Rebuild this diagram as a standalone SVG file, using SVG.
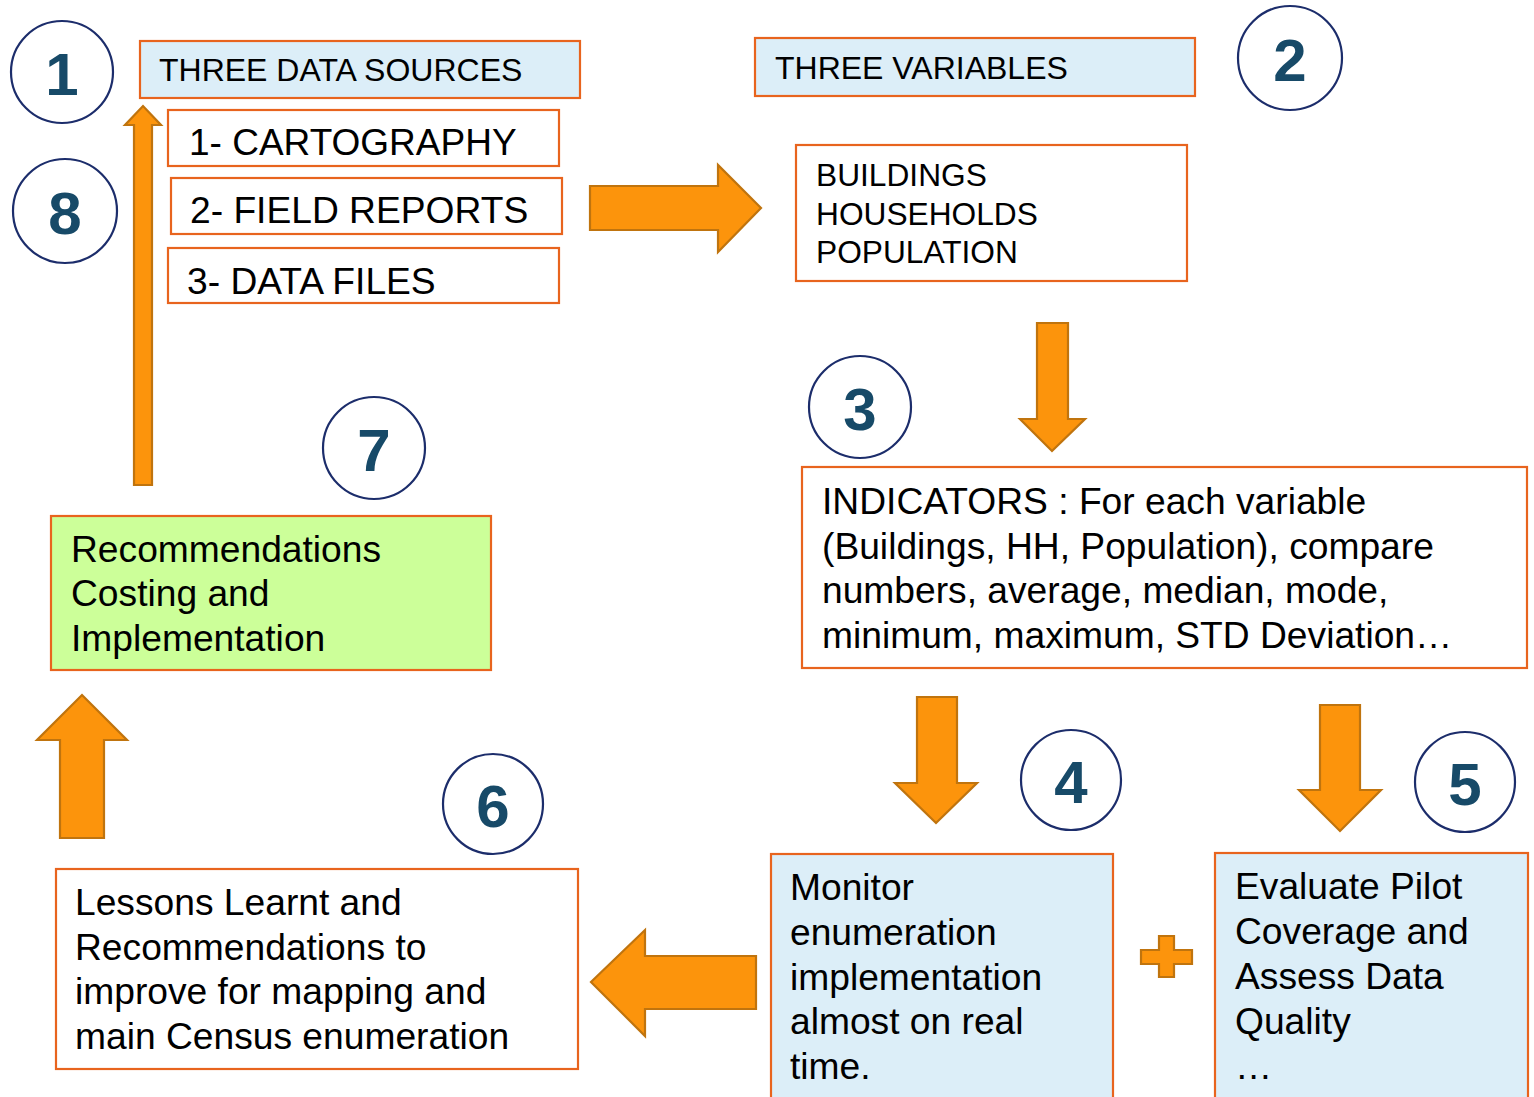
<svg xmlns="http://www.w3.org/2000/svg" width="1534" height="1097" viewBox="0 0 1534 1097">
  <style>
    .box { stroke: #E8641E; stroke-width: 2.2; }
    .blue { fill: #DCEEF8; }
    .white { fill: #FFFFFF; }
    .green { fill: #CCFF99; }
    .badge { fill: #FFFFFF; stroke: #1C2D6B; stroke-width: 2.2; }
    .num { font-family: "Liberation Sans", Arial, sans-serif; font-weight: bold; font-size: 60px; fill: #174A68; text-anchor: middle; }
    .t { font-family: "Liberation Sans", Arial, sans-serif; fill: #000000; }
    .arrow { fill: #FC940C; stroke: #C0740E; stroke-width: 2.2; stroke-linejoin: miter; }
  </style>
  <rect width="1534" height="1097" fill="#FFFFFF"/>

  <!-- flow arrows -->
  <g id="connectors">
    <path class="arrow" d="M134,485 L134,125 L125,125 L143,106 L161,125 L152,125 L152,485 Z"/>
    <path class="arrow" d="M590,186 L718,186 L718,165 L761,208 L718,252 L718,230 L590,230 Z"/>
    <path class="arrow" d="M1037,323 L1068,323 L1068,419 L1085,419 L1052,451 L1020,419 L1037,419 Z"/>
    <path class="arrow" d="M917,697 L957,697 L957,783 L977,783 L936,823 L895,783 L917,783 Z"/>
    <path class="arrow" d="M1320,705 L1360,705 L1360,790 L1381,790 L1340,831 L1299,790 L1320,790 Z"/>
    <path class="arrow" d="M756,956 L645,956 L645,930 L591,982 L645,1036 L645,1009 L756,1009 Z"/>
    <path class="arrow" d="M60,838 L60,740 L37,740 L82,695 L127,740 L104,740 L104,838 Z"/>
    <path class="arrow" d="M1159,936 L1174,936 L1174,950 L1192,950 L1192,964 L1174,964 L1174,977 L1159,977 L1159,964 L1141,964 L1141,950 L1159,950 Z"/>
  </g>

  <g id="step1">
    <circle class="badge" cx="62" cy="72" r="51"/>
    <text class="num" x="62" y="95">1</text>
  </g>

  <g id="data-sources">
    <rect class="box blue" x="140" y="41" width="440" height="57"/>
    <text class="t" x="159" y="81" font-size="32">THREE DATA SOURCES</text>
  </g>

  <g id="cartography">
    <rect class="box white" x="168" y="110" width="391" height="56"/>
    <text class="t" x="189" y="155" font-size="37">1- CARTOGRAPHY</text>
  </g>

  <g id="field-reports">
    <rect class="box white" x="171" y="178" width="391" height="56"/>
    <text class="t" x="190" y="223" font-size="37.2">2- FIELD REPORTS</text>
  </g>

  <g id="data-files">
    <rect class="box white" x="168" y="248" width="391" height="55"/>
    <text class="t" x="187" y="294" font-size="37.2">3- DATA FILES</text>
  </g>

  <g id="step8">
    <circle class="badge" cx="65" cy="211" r="52"/>
    <text class="num" x="65" y="234">8</text>
  </g>

  <g id="variables">
    <rect class="box blue" x="755" y="38" width="440" height="58"/>
    <text class="t" x="775" y="79" font-size="32">THREE VARIABLES</text>
  </g>

  <g id="step2">
    <circle class="badge" cx="1290" cy="58" r="52"/>
    <text class="num" x="1290" y="81">2</text>
  </g>

  <g id="variable-list">
    <rect class="box white" x="796" y="145" width="391" height="136"/>
    <text class="t" font-size="31.7">
      <tspan x="816" y="186">BUILDINGS</tspan>
      <tspan x="816" y="224.5">HOUSEHOLDS</tspan>
      <tspan x="816" y="263">POPULATION</tspan>
    </text>
  </g>

  <g id="step3">
    <circle class="badge" cx="860" cy="407" r="51"/>
    <text class="num" x="860" y="430">3</text>
  </g>

  <g id="indicators">
    <rect class="box white" x="802" y="467" width="725" height="201"/>
    <text class="t" font-size="37.2">
      <tspan x="822" y="514">INDICATORS : For each variable</tspan>
      <tspan x="822" y="559">(Buildings, HH, Population), compare</tspan>
      <tspan x="822" y="603">numbers, average, median, mode,</tspan>
      <tspan x="822" y="648">minimum, maximum, STD Deviation…</tspan>
    </text>
  </g>

  <g id="step7">
    <circle class="badge" cx="374" cy="448" r="51"/>
    <text class="num" x="374" y="471">7</text>
  </g>

  <g id="recommendations">
    <rect class="box green" x="51" y="516" width="440" height="154"/>
    <text class="t" font-size="37.2">
      <tspan x="71" y="562">Recommendations</tspan>
      <tspan x="71" y="606">Costing and</tspan>
      <tspan x="71" y="651">Implementation</tspan>
    </text>
  </g>

  <g id="step4">
    <circle class="badge" cx="1071" cy="780" r="50"/>
    <text class="num" x="1071" y="803">4</text>
  </g>

  <g id="step5">
    <circle class="badge" cx="1465" cy="782" r="50"/>
    <text class="num" x="1465" y="805">5</text>
  </g>

  <g id="monitor">
    <rect class="box blue" x="771" y="854" width="342" height="260"/>
    <text class="t" font-size="37.2">
      <tspan x="790" y="900">Monitor</tspan>
      <tspan x="790" y="945">enumeration</tspan>
      <tspan x="790" y="990">implementation</tspan>
      <tspan x="790" y="1034">almost on real</tspan>
      <tspan x="790" y="1079">time.</tspan>
    </text>
  </g>

  <g id="evaluate">
    <rect class="box blue" x="1215" y="853" width="313" height="260"/>
    <text class="t" font-size="37.2">
      <tspan x="1235" y="899">Evaluate Pilot</tspan>
      <tspan x="1235" y="944">Coverage and</tspan>
      <tspan x="1235" y="989">Assess Data</tspan>
      <tspan x="1235" y="1034">Quality</tspan>
      <tspan x="1235" y="1079">…</tspan>
    </text>
  </g>

  <g id="step6">
    <circle class="badge" cx="493" cy="804" r="50"/>
    <text class="num" x="493" y="827">6</text>
  </g>

  <g id="lessons">
    <rect class="box white" x="56" y="869" width="522" height="200"/>
    <text class="t" font-size="37.2">
      <tspan x="75" y="915">Lessons Learnt and</tspan>
      <tspan x="75" y="960">Recommendations to</tspan>
      <tspan x="75" y="1004">improve for mapping and</tspan>
      <tspan x="75" y="1049">main Census enumeration</tspan>
    </text>
  </g>
</svg>
